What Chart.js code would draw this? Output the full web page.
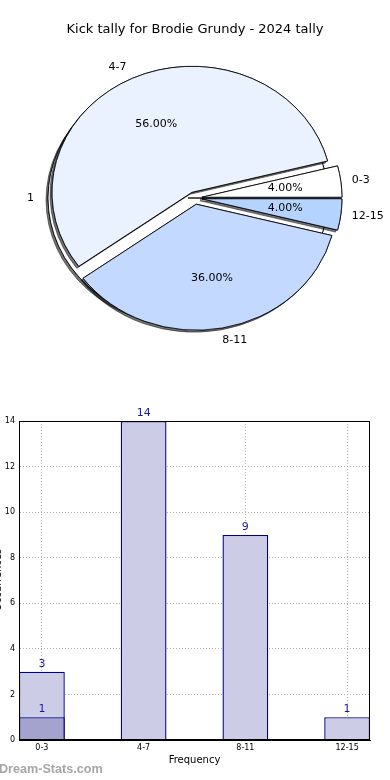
<!DOCTYPE html>
<html>
<head>
<meta charset="utf-8">
<script src="https://cdn.jsdelivr.net/npm/chart.js@4.4.1/dist/chart.umd.min.js"></script>
<style>
  body { margin: 0; background: #fff; }
  #page { position: relative; width: 390px; height: 780px; overflow: hidden; }
  #pieWrap { position: absolute; left: 0; top: 0; width: 390px; height: 380px; }
  #pieWrap canvas { position: absolute; left: 0; top: 0; }
  #barWrap { position: absolute; left: 0; top: 380px; width: 390px; height: 400px; }
  #mark { position: absolute; left: -1px; top: 762px; font: bold 12.6px "Liberation Sans", sans-serif; color: #a6a6a6; }
</style>
</head>
<body>
<div id="page">
  <div id="pieWrap">
    <canvas id="pieBack" width="390" height="380"></canvas>
    <canvas id="pieFront" width="390" height="380"></canvas>
  </div>
  <div id="barWrap">
    <canvas id="bars" width="390" height="400"></canvas>
  </div>
  <div id="mark">Dream-Stats.com</div>
</div>
<script>
// pie data (matplotlib order, counter-clockwise from 3 o'clock)
const sliceLabels = ['0-3', '4-7', '8-11', '12-15'];
const sliceCounts = [1, 14, 9, 1];
const sliceColors = ['#ffffff', '#eaf1ff', '#c4d9ff', '#b4d4ff'];
const backLabels = ['1'];
const backCounts = [1];

// bar data
const barCategories = ['0-3', '4-7', '8-11', '12-15'];
const barTotals = [3, 14, 9, 1];
const barHighlight = [1, null, null, null];

const pieTitle = 'Kick tally for Brodie Grundy - 2024 tally';
const SX = 140 / 126; // pie is a bit wider than tall
const FONT = '"DejaVu Sans", sans-serif';

// draws the arcs exploded + stretched, with a shadow pass first
const explodedPie = {
  id: 'explodedPie',
  beforeDatasetsDraw(chart, args, opts) {
    const ctx = chart.ctx;
    const arcs = chart.getDatasetMeta(0).data;
    const cx = arcs[0].x, cy = arcs[0].y;
    const ex = opts.explode * arcs[0].outerRadius;
    [0, 1].forEach(pass => {
      arcs.forEach(arc => {
        const mid = (arc.startAngle + arc.endAngle) / 2;
        ctx.save();
        if (pass === 0) {
          ctx.shadowColor = 'rgba(0,0,0,0.55)';
          ctx.shadowOffsetX = -2;
          ctx.shadowOffsetY = 2;
        }
        ctx.translate(cx, cy);
        ctx.scale(SX, 1);
        ctx.translate(-cx, -cy);
        ctx.translate(Math.cos(mid) * ex, Math.sin(mid) * ex);
        arc.draw(ctx);
        ctx.restore();
      });
    });
    return false;
  },
  afterDraw(chart, args, opts) {
    const ctx = chart.ctx;
    const meta = chart.getDatasetMeta(0);
    const ds = chart.data.datasets[0];
    const total = ds.data.reduce((a, b) => a + b, 0);
    ctx.save();
    ctx.font = '11px ' + FONT;
    ctx.fillStyle = '#000';
    ctx.textBaseline = 'middle';
    meta.data.forEach((arc, i) => {
      const mid = (arc.startAngle + arc.endAngle) / 2;
      const r = arc.outerRadius;
      const ex = opts.explode * r;
      const c = Math.cos(mid), s = Math.sin(mid);
      // outer label
      const lr = 1.1 * r + ex;
      ctx.textAlign = c > 0.001 ? 'left' : (c < -0.001 ? 'right' : 'center');
      ctx.fillText(chart.data.labels[i], arc.x + lr * c * SX - (c > 0.001 ? 3 : 0), arc.y + lr * s);
      // percentage
      const pr = 0.6 * r + ex;
      ctx.textAlign = 'center';
      ctx.fillText((ds.data[i] / total * 100).toFixed(2) + '%', arc.x + pr * c * SX, arc.y + pr * s);
    });
    ctx.restore();
  }
};

function pieOptions(titleColor) {
  return {
    responsive: false,
    animation: false,
    rotation: 90,
    layout: { padding: { top: 0, bottom: 40 } },
    plugins: {
      legend: { display: false },
      tooltip: { enabled: false },
      title: {
        display: true,
        text: pieTitle,
        color: titleColor,
        font: { family: FONT, size: 13, weight: 'normal' },
        padding: { top: 22, bottom: 18.4 }
      },
      explodedPie: { explode: 0.05 }
    }
  };
}

new Chart(document.getElementById('pieBack'), {
  type: 'pie',
  data: {
    labels: backLabels,
    datasets: [{
      data: backCounts,
      backgroundColor: '#ffffff',
      borderColor: '#000',
      borderWidth: 0.8,
      radius: 126
    }]
  },
  options: pieOptions('#000'),
  plugins: [explodedPie]
});

new Chart(document.getElementById('pieFront'), {
  type: 'pie',
  data: {
    labels: sliceLabels.slice().reverse(),
    datasets: [{
      data: sliceCounts.slice().reverse(),
      backgroundColor: sliceColors.slice().reverse(),
      borderColor: '#000',
      borderWidth: 0.8,
      radius: 126
    }]
  },
  options: pieOptions('rgba(0,0,0,0)'),
  plugins: [explodedPie]
});

// bar chart helpers
const barLabelsPlugin = {
  id: 'barLabels',
  afterDatasetsDraw(chart) {
    const ctx = chart.ctx;
    const a = chart.chartArea;
    ctx.save();
    // frame around the plot
    ctx.strokeStyle = '#000';
    ctx.lineWidth = 1;
    ctx.strokeRect(a.left + 0.5, a.top + 0.5, a.right - a.left - 1, a.bottom - a.top - 1);
    // value labels
    ctx.font = '11px ' + FONT;
    ctx.fillStyle = '#1a1aa0';
    ctx.textAlign = 'center';
    ctx.textBaseline = 'middle';
    chart.data.datasets.forEach((ds, di) => {
      chart.getDatasetMeta(di).data.forEach((bar, i) => {
        const v = ds.data[i].y;
        if (v == null) return;
        ctx.fillText(String(v), bar.x, bar.y - 8);
      });
    });
    // y title, mostly cut off at the left edge
    ctx.translate(-2, 200);
    ctx.rotate(-Math.PI / 2);
    ctx.font = '10px ' + FONT;
    ctx.fillStyle = '#000';
    ctx.fillText('Occurrences', 0, 0);
    ctx.restore();
  }
};

const toPoints = arr => arr.map((v, i) => ({ x: i, y: v })).filter(p => p.y != null);

new Chart(document.getElementById('bars'), {
  type: 'bar',
  data: {
    datasets: [
      {
        data: toPoints(barHighlight),
        backgroundColor: '#a3a3ce',
        borderColor: '#000080',
        borderWidth: 1.4,
        grouped: false,
        barPercentage: 0.45,
        categoryPercentage: 1
      },
      {
        data: toPoints(barTotals),
        backgroundColor: '#ccccE6',
        borderColor: '#000080',
        borderWidth: 1.4,
        grouped: false,
        barPercentage: 0.45,
        categoryPercentage: 1
      }
    ]
  },
  options: {
    responsive: false,
    animation: false,
    layout: { padding: { top: 41, right: 20, left: 0, bottom: 0 } },
    plugins: { legend: { display: false }, tooltip: { enabled: false } },
    scales: {
      x: {
        type: 'linear',
        offset: false,
        min: -0.225,
        max: 3.225,
        afterBuildTicks: s => { s.ticks = barCategories.map((c, i) => ({ value: i })); },
        afterFit: s => { s.height = 40; },
        ticks: {
          callback: v => barCategories[v],
          color: '#000',
          font: { family: FONT, size: 8 },
          padding: 3,
          maxRotation: 0
        },
        grid: { color: '#b0b0b0', drawTicks: false, offset: false },
        border: { display: true, color: '#000', dash: [1, 2] },
        title: {
          display: true,
          text: 'Frequency',
          color: '#000',
          font: { family: FONT, size: 10 },
          padding: { top: 0, bottom: 14 }
        }
      },
      y: {
        min: 0,
        max: 14,
        afterFit: s => { s.width = 19; },
        ticks: {
          stepSize: 2,
          color: '#000',
          font: { family: FONT, size: 8 },
          padding: 4
        },
        grid: { color: '#b0b0b0', drawTicks: false },
        border: { display: true, color: '#000', dash: [1, 2] }
      }
    }
  },
  plugins: [barLabelsPlugin]
});
</script>
</body>
</html>
